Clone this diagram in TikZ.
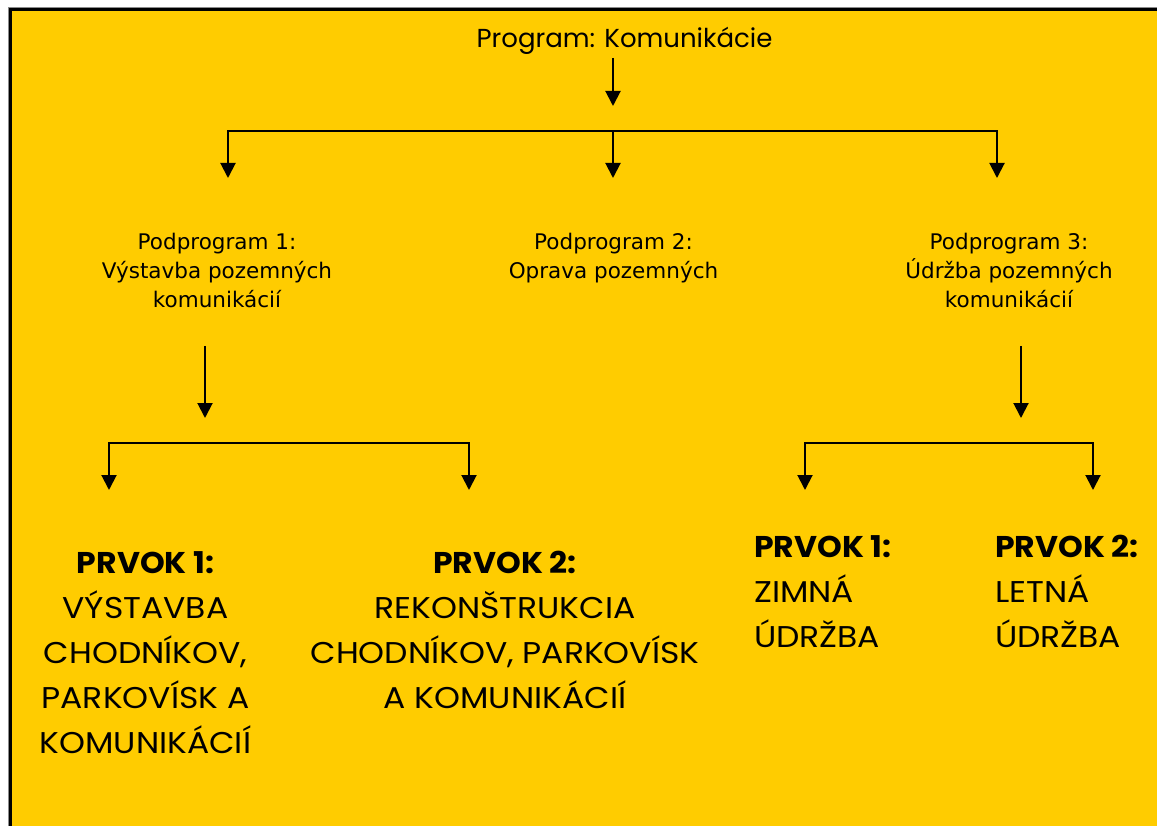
\documentclass[tikz,border=0pt]{standalone}
\usepackage{fontspec}
\setmainfont{Poppins}
\newfontfamily\prvokfont{Poppins}[FakeStretch=1.1, BoldFeatures={FakeStretch=1.05}]
\newfontfamily\podfont{DejaVu Sans}
\usetikzlibrary{arrows.meta}
\definecolor{bgyellow}{RGB}{255,204,0}
\begin{document}
\begin{tikzpicture}[x=1pt,y=-1pt,
  conn/.style={line width=2pt},
  arr/.style={conn,-{Triangle[width=15pt,length=15pt]}},
  titletext/.style={font=\fontsize{26}{30}\selectfont, inner sep=0pt, anchor=base},
  podtext/.style={font=\podfont\fontsize{21.5}{29}\selectfont, inner sep=0pt, anchor=base},
  prvoktext/.style={font=\prvokfont\fontsize{30}{45}\selectfont, inner sep=0pt, anchor=base},
]
\useasboundingbox (0,0) rectangle (1157,826);
\fill[white] (0,0) rectangle (1157,826);
\fill[black!45] (8,7) rectangle (1157,826);
\fill[black] (9,8) rectangle (1157,826);
\fill[bgyellow] (12,11) rectangle (1157,826);

% texts
\node[titletext] (title) at (624.5,48) {Program: Komunikácie};
\node[podtext] (pod1) at (217,250) {\begin{tabular}[t]{@{}c@{}}Podprogram 1:\\Výstavba pozemných\\komunikácií\end{tabular}};
\node[podtext] (pod2) at (613.5,250) {\begin{tabular}[t]{@{}c@{}}Podprogram 2:\\Oprava pozemných\end{tabular}};
\node[podtext] (pod3) at (1009,250) {\begin{tabular}[t]{@{}c@{}}Podprogram 3:\\Údržba pozemných\\komunikácií\end{tabular}};
\node[prvoktext] (p11) at (145.5,573) {\begin{tabular}[t]{@{}c@{}}\textbf{PRVOK 1:}\\VÝSTAVBA\\CHODNÍKOV,\\PARKOVÍSK A\\KOMUNIKÁCIÍ\end{tabular}};
\node[prvoktext] (p12) at (505,573) {\begin{tabular}[t]{@{}c@{}}\textbf{PRVOK 2:}\\REKONŠTRUKCIA\\CHODNÍKOV, PARKOVÍSK\\A KOMUNIKÁCIÍ\end{tabular}};
\node[prvoktext, anchor=base west] (p31) at (754,557) {\begin{tabular}[t]{@{}l@{}}\textbf{PRVOK 1:}\\ZIMNÁ\\ÚDRŽBA\end{tabular}};
\node[prvoktext, anchor=base west] (p32) at (995,557) {\begin{tabular}[t]{@{}l@{}}\textbf{PRVOK 2:}\\LETNÁ\\ÚDRŽBA\end{tabular}};

% connector points
\coordinate (titleout) at (613,58);
\coordinate (titletip) at (613,106);
\coordinate (split0) at (613,131);
\coordinate (pod1in) at (228,178);
\coordinate (pod2in) at (613,178);
\coordinate (pod3in) at (997,178);
\coordinate (pod1out) at (205,346);
\coordinate (pod1tip) at (205,418);
\coordinate (split1) at (205,443);
\coordinate (p11in) at (109,490);
\coordinate (p12in) at (469,490);
\coordinate (pod3out) at (1021,346);
\coordinate (pod3tip) at (1021,418);
\coordinate (split3) at (1021,443);
\coordinate (p31in) at (805,490);
\coordinate (p32in) at (1093,490);

% connectors
\draw[arr] (titleout) -- (titletip);
\draw[arr] (split0) -| (pod1in);
\draw[arr] (split0) -- (pod2in);
\draw[arr] (split0) -| (pod3in);
\draw[arr] (pod1out) -- (pod1tip);
\draw[arr] (split1) -| (p11in);
\draw[arr] (split1) -| (p12in);
\draw[arr] (pod3out) -- (pod3tip);
\draw[arr] (split3) -| (p31in);
\draw[arr] (split3) -| (p32in);
\end{tikzpicture}
\end{document}
